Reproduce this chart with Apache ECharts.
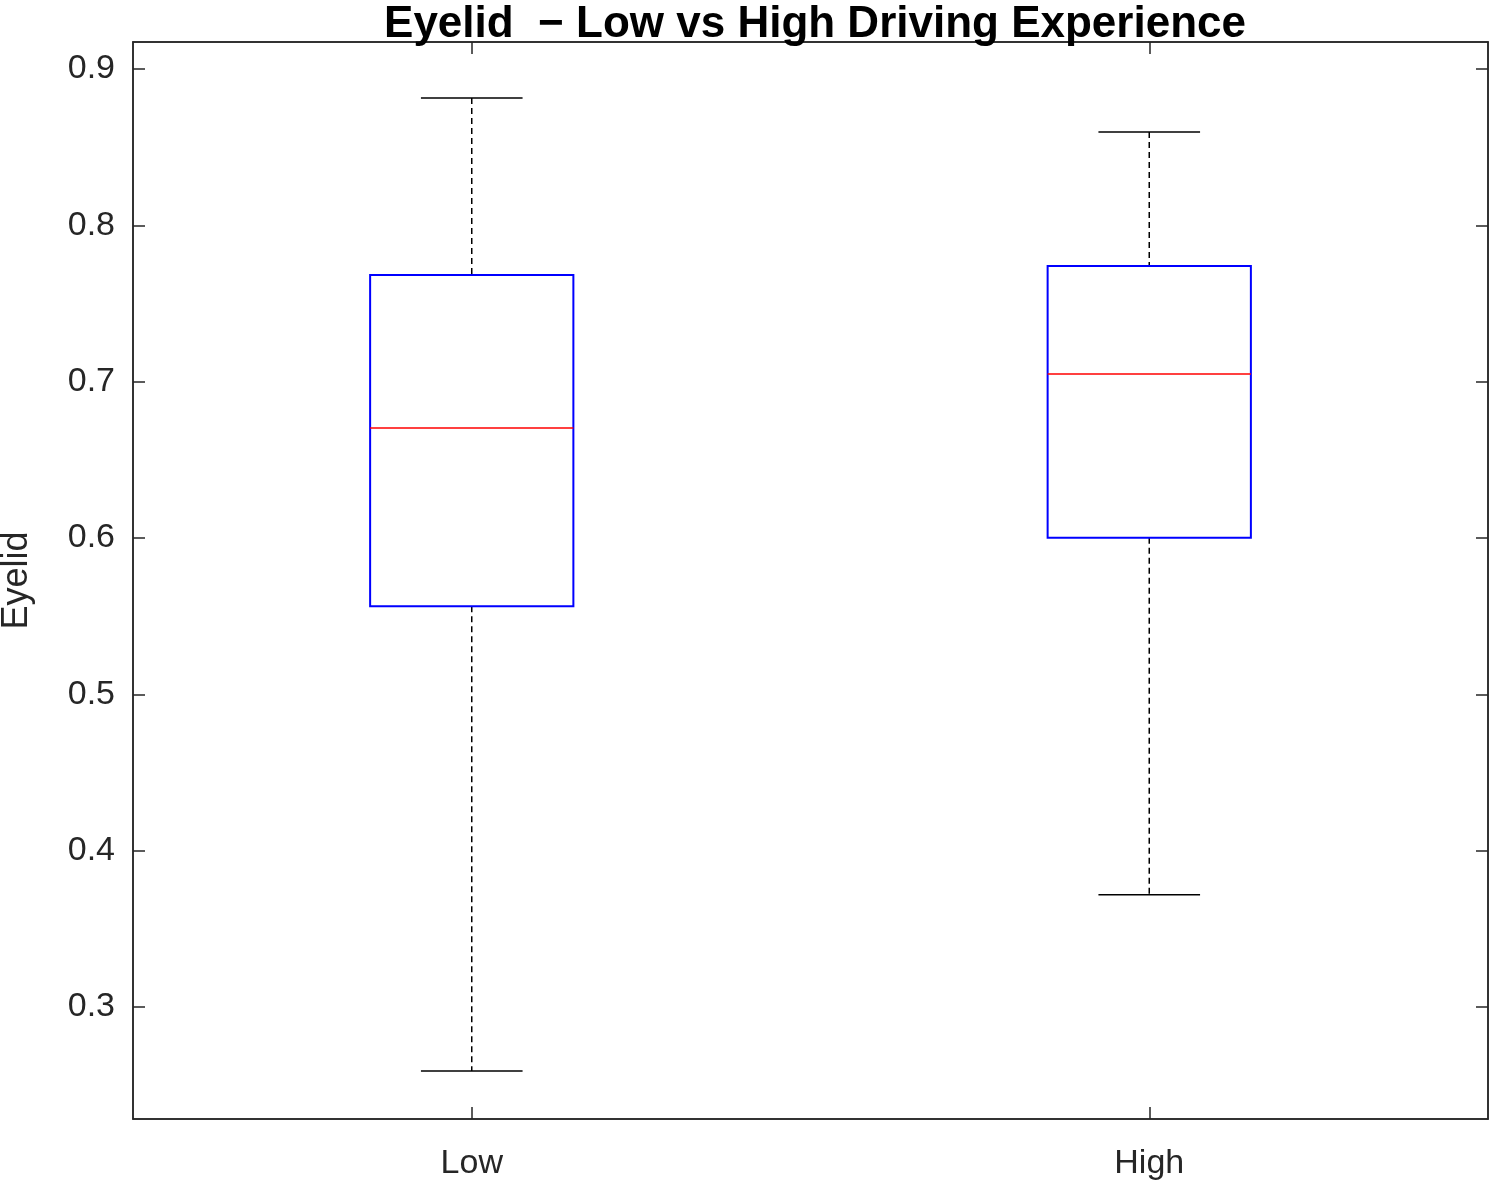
<!DOCTYPE html>
<html lang="en">
<head>
<meta charset="UTF-8"/>
<title>Eyelid boxplot</title>
<script src="https://cdn.jsdelivr.net/npm/echarts@6/dist/echarts.min.js"></script>
<style>html,body{margin:0;padding:0;background:#fff}</style>
</head>
<body>
<div id="main" style="width:1492px;height:1190px"></div>
<script type="text/javascript">
// box statistics: [min, q1, median, q3, max]
var categories = ['Low', 'High'];
var boxLow = [0.259, 0.5564, 0.6703, 0.7682, 0.8814];
var boxHigh = [0.3717, 0.6001, 0.7049, 0.774, 0.8597];
var yTicks = [0.3, 0.4, 0.5, 0.6, 0.7, 0.8, 0.9];

var boxes = [[0].concat(boxLow), [1].concat(boxHigh)];
var txt = '#262626';
var font = 'Arial, "Liberation Sans", sans-serif';

function renderBox(params, api) {
    var i = api.value(0);
    var pMin = api.coord([i, api.value(1)]);
    var pQ1 = api.coord([i, api.value(2)]);
    var pMed = api.coord([i, api.value(3)]);
    var pQ3 = api.coord([i, api.value(4)]);
    var pMax = api.coord([i, api.value(5)]);
    var band = api.size([1, 0])[0];
    var x = pMed[0], bw = band * 0.3, cw = bw / 2;
    var dash = {stroke: '#000', lineWidth: 1.5, lineDash: [6, 4]};
    var solid = {stroke: '#000', lineWidth: 1.5};
    return {
        type: 'group',
        children: [
            {type: 'line', shape: {x1: x, y1: pMax[1], x2: x, y2: pQ3[1]}, style: dash},
            {type: 'line', shape: {x1: x, y1: pQ1[1], x2: x, y2: pMin[1]}, style: dash},
            {type: 'line', shape: {x1: x - cw / 2, y1: pMax[1], x2: x + cw / 2, y2: pMax[1]}, style: solid},
            {type: 'line', shape: {x1: x - cw / 2, y1: pMin[1], x2: x + cw / 2, y2: pMin[1]}, style: solid},
            {type: 'rect', shape: {x: x - bw / 2, y: pQ3[1], width: bw, height: pQ1[1] - pQ3[1]},
                style: {fill: '#fff', stroke: '#0000ff', lineWidth: 2}},
            {type: 'line', shape: {x1: x - bw / 2, y1: pMed[1], x2: x + bw / 2, y2: pMed[1]},
                style: {stroke: '#ff0000', lineWidth: 1.5}}
        ]
    };
}

var myChart = echarts.init(document.getElementById('main'));
var yMin = 0.2283, yMax = 0.9173;
var tickStyle = {color: txt, width: 1.5};
var lineStyle = {show: true, lineStyle: {color: txt, width: 1.5}};
var option = {
    animation: false,
    title: {
        text: 'Eyelid  \u2212 Low vs High Driving Experience',
        left: 810, textAlign: 'center', top: -2,
        textStyle: {fontFamily: font, fontSize: 44, fontWeight: 'bold', color: '#000'}
    },
    grid: {left: 133, right: 4, top: 42, bottom: 71, containLabel: false, outerBoundsMode: 'none',
        show: true, borderColor: txt, borderWidth: 1.5},
    xAxis: [{
        type: 'category', data: categories, position: 'bottom',
        axisLine: lineStyle,
        axisTick: {show: true, inside: true, alignWithLabel: true, length: 12, lineStyle: tickStyle},
        axisLabel: {fontFamily: font, fontSize: 34, color: txt, margin: 28}
    }, {
        type: 'category', data: categories, position: 'top',
        axisLine: lineStyle,
        axisTick: {show: true, inside: true, alignWithLabel: true, length: 12, lineStyle: tickStyle},
        axisLabel: {show: false}
    }],
    yAxis: [{
        type: 'value', min: yMin, max: yMax, position: 'left',
        name: 'Eyelid', nameLocation: 'middle', nameGap: 98,
        nameTextStyle: {fontFamily: font, fontSize: 36, color: txt},
        splitLine: {show: false}, axisLine: lineStyle,
        axisTick: {show: true, inside: true, length: 12, customValues: yTicks, lineStyle: tickStyle},
        axisLabel: {fontFamily: font, fontSize: 34, color: txt, margin: 18, customValues: yTicks,
            formatter: function (v) { return Number(v).toFixed(1); }}
    }, {
        type: 'value', min: yMin, max: yMax, position: 'right',
        splitLine: {show: false}, axisLine: lineStyle,
        axisTick: {show: true, inside: true, length: 12, customValues: yTicks, lineStyle: tickStyle},
        axisLabel: {show: false}
    }],
    series: [{
        type: 'custom',
        renderItem: renderBox,
        encode: {x: 0, y: [1, 2, 3, 4, 5]},
        data: boxes
    }]
};
myChart.setOption(option);
</script>
</body>
</html>
